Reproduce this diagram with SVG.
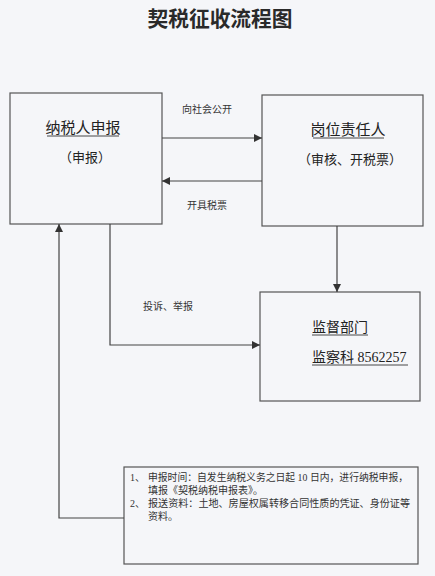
<svg xmlns="http://www.w3.org/2000/svg" width="435" height="576" viewBox="0 0 435 576">
<style>
.box{fill:none;stroke:#555;stroke-width:1.2}
.ln{fill:none;stroke:#444;stroke-width:1.2}
.t{font-family:"Liberation Serif","Noto Sans CJK SC",serif;fill:#222}
.s{font-family:"Liberation Serif","Noto Sans CJK SC",serif;fill:#333;font-size:10px}
.u{stroke:#333;stroke-width:0.9}
</style>
<defs>
<marker id="ah" viewBox="0 0 10 10" refX="10" refY="5" markerWidth="8" markerHeight="8" markerUnits="userSpaceOnUse" orient="auto">
<path d="M0,0 L10,5 L0,10 Z" fill="#333"/>
</marker>
</defs>
<rect width="435" height="576" fill="#f5f6f9"/>
<text x="220" y="26" text-anchor="middle" font-family="Noto Sans CJK SC, sans-serif" font-size="21" font-weight="bold" fill="#2a2a2a" textLength="145" lengthAdjust="spacingAndGlyphs">契税征收流程图</text>

<g id="taxpayer">
<rect class="box" x="10" y="93" width="152" height="131"/>
<text class="t" x="83" y="133" font-size="15" text-anchor="middle">纳税人申报</text>
<line class="u" x1="47" y1="136" x2="119" y2="136"/>
<text class="t" x="85" y="162" font-size="13" text-anchor="middle">（申报）</text>
</g>

<g id="officer">
<rect class="box" x="262" y="95" width="161" height="131"/>
<text class="t" x="348" y="135" font-size="15" text-anchor="middle">岗位责任人</text>
<line class="u" x1="313" y1="138" x2="384" y2="138"/>
<text class="t" x="350" y="164" font-size="13" text-anchor="middle">（审核、开税票）</text>
</g>

<g id="supervision">
<rect class="box" x="260" y="292" width="160" height="109"/>
<text class="t" x="312" y="332" font-size="14">监督部门</text>
<line class="u" x1="312" y1="335" x2="368" y2="335"/>
<text class="t" x="312" y="362" font-size="14">监察科 8562257</text>
<line class="u" x1="312" y1="365" x2="408" y2="365"/>
</g>

<g id="notes">
<rect class="box" x="124" y="467" width="294" height="97"/>
<text class="s" x="130" y="481">1、</text>
<text class="s" x="148" y="481" textLength="260" lengthAdjust="spacingAndGlyphs">申报时间：自发生纳税义务之日起 10 日内，进行纳税申报，</text>
<text class="s" x="148" y="494">填报《契税纳税申报表》。</text>
<text class="s" x="130" y="507">2、</text>
<text class="s" x="148" y="507" textLength="262" lengthAdjust="spacingAndGlyphs">报送资料：土地、房屋权属转移合同性质的凭证、身份证等</text>
<text class="s" x="148" y="520">资料。</text>
</g>

<g id="connectors">
<line class="ln" x1="162" y1="138" x2="262" y2="138" marker-end="url(#ah)"/>
<text class="s" x="207" y="113" text-anchor="middle">向社会公开</text>
<line class="ln" x1="262" y1="181" x2="162" y2="181" marker-end="url(#ah)"/>
<text class="s" x="207" y="209" text-anchor="middle">开具税票</text>
<line class="ln" x1="337" y1="226" x2="337" y2="292" marker-end="url(#ah)"/>
<polyline class="ln" points="110,224 110,345 260,345" marker-end="url(#ah)"/>
<text class="s" x="143" y="310">投诉、举报</text>
<polyline class="ln" points="124,518 59,518 59,224" marker-end="url(#ah)"/>
</g>
</svg>
